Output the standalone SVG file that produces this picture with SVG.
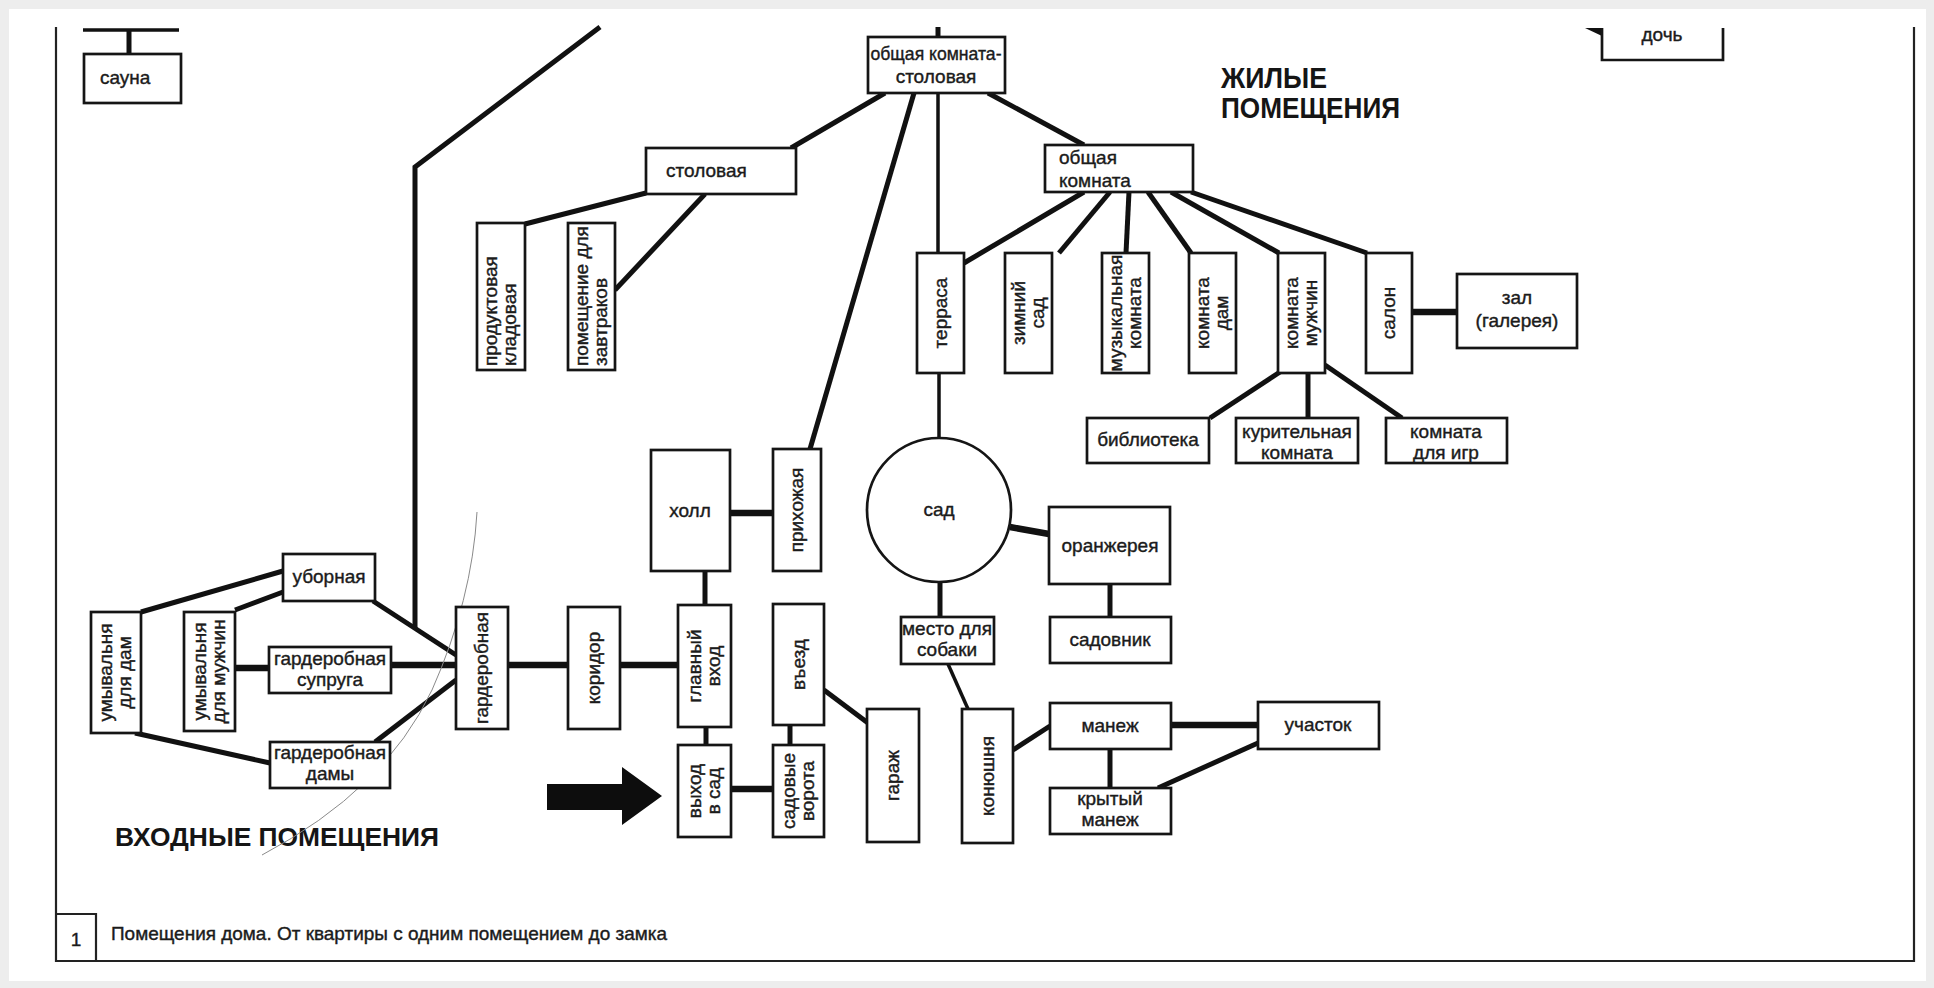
<svg xmlns="http://www.w3.org/2000/svg" width="1934" height="988" viewBox="0 0 1934 988">
<style>
.box{fill:#fff;stroke:#151515;stroke-width:2.7}
.c{stroke:#111;stroke-width:5;fill:none}
.c6{stroke:#111;stroke-width:6.5;fill:none}
.c3{stroke:#111;stroke-width:3.5;fill:none}
.fr{stroke:#222;stroke-width:2.2;fill:none}
.t{font-family:"Liberation Sans",Arial,sans-serif;font-size:19px;fill:#1b1b1b;stroke:#1b1b1b;stroke-width:0.4}
.m{text-anchor:middle}
.h{font-family:"Liberation Sans",Arial,sans-serif;font-weight:bold;fill:#151515}
</style>
<rect x="0" y="0" width="1934" height="988" fill="#ededed"/>
<rect x="9" y="9" width="1917" height="972" fill="#fff"/>

<g id="frame">
<path class="fr" d="M56,27 V961 H1914 V27"/>
<path class="fr" d="M56,914 H96 V961"/>
<text class="t" x="76" y="946" text-anchor="middle" font-size="24">1</text>
<text class="t" x="111" y="940" textLength="556" lengthAdjust="spacingAndGlyphs">Помещения дома. От квартиры с одним помещением до замка</text>
</g>

<g id="headings">
<text class="h" x="1221" y="88" font-size="29" textLength="106" lengthAdjust="spacingAndGlyphs">ЖИЛЫЕ</text>
<text class="h" x="1221" y="118" font-size="29" textLength="179" lengthAdjust="spacingAndGlyphs">ПОМЕЩЕНИЯ</text>
<text class="h" x="115" y="846" font-size="25" textLength="324" lengthAdjust="spacingAndGlyphs">ВХОДНЫЕ ПОМЕЩЕНИЯ</text>
</g>

<g id="connectors">
<path class="c3" d="M83,30 H179"/>
<path class="c" d="M129,30 V54"/>
<path class="c" d="M600,27 L415,167 V628"/>
<path class="c" d="M938,27 V37"/>
<path class="c" d="M885,93 L791,148"/>
<path class="c" d="M914,93 L810,449"/>
<path class="c3" d="M938,93 V253"/>
<path class="c" d="M988,93 L1084,145"/>
<path class="c" d="M646,193 L525,224"/>
<path class="c" d="M705,194 L615,290"/>
<path class="c" d="M1084,192 L964,263"/>
<path class="c" d="M1110,192 L1059,253"/>
<path class="c" d="M1129,192 L1126,253"/>
<path class="c" d="M1148,192 L1191,253"/>
<path class="c" d="M1171,192 L1279,253"/>
<path class="c" d="M1191,192 L1367,253"/>
<path class="c6" d="M1412,312 H1457"/>
<path class="c" d="M1280,372 L1210,418"/>
<path class="c" d="M1308,373 V418"/>
<path class="c" d="M1325,365 L1402,418"/>
<path class="c3" d="M939,373 V438"/>
<path class="c6" d="M730,513 H773"/>
<path class="c6" d="M1010,527 L1049,534"/>
<path class="c" d="M940,582 V617"/>
<path class="c" d="M1110,584 V617"/>
<path class="c" d="M705,571 V605"/>
<path class="c" d="M706,727 V745"/>
<path class="c" d="M790,725 V745"/>
<path class="c6" d="M731,789 H773"/>
<path class="c" d="M824,690 L868,723"/>
<path class="c3" d="M948,664 L968,709"/>
<path class="c" d="M1013,750 L1050,726"/>
<path class="c6" d="M1171,725 H1258"/>
<path class="c" d="M1110,749 V788"/>
<path class="c" d="M1258,743 L1158,788"/>
<path class="c" d="M141,612 L283,571"/>
<path class="c" d="M235,610 L283,592"/>
<path class="c6" d="M235,668 H269"/>
<path class="c6" d="M391,665 H456"/>
<path class="c" d="M373,601 L456,655"/>
<path class="c" d="M456,680 L375,742"/>
<path class="c" d="M135,733 L270,763"/>
<path class="c6" d="M508,665 H568"/>
<path class="c6" d="M620,665 H678"/>
<polygon points="1585,28 1602,28 1602,36" fill="#111"/>
<polygon points="547,784 622,784 622,767 662,796 622,825 622,810 547,810" fill="#0d0d0d"/>
<path d="M477,512 Q472,600 432,690 Q385,790 262,855" stroke="#8a8a8a" stroke-width="1" fill="none"/>
</g>

<g id="n-sauna"><rect class="box" x="84" y="54" width="97" height="49"/><text class="t" x="100" y="84">сауна</text></g>
<g id="n-doch"><path class="box" d="M1602,28 V60 H1723 V28" fill="none"/><text class="t m" x="1662" y="41">дочь</text></g>
<g id="n-oks"><rect class="box" x="868" y="37" width="137" height="56"/><text class="t m" x="936" y="60" font-size="18" textLength="131" lengthAdjust="spacingAndGlyphs">общая комната-</text><text class="t m" x="936" y="83" font-size="18">столовая</text></g>
<g id="n-stolovaya"><rect class="box" x="646" y="148" width="150" height="46"/><text class="t" x="666" y="177">столовая</text></g>
<g id="n-obshaya"><rect class="box" x="1045" y="145" width="148" height="47"/><text class="t" x="1059" y="164">общая</text><text class="t" x="1059" y="187">комната</text></g>
<g id="n-zal"><rect class="box" x="1457" y="274" width="120" height="74"/><text class="t m" x="1517" y="304">зал</text><text class="t m" x="1517" y="327">(галерея)</text></g>
<g id="n-biblioteka"><rect class="box" x="1087" y="418" width="122" height="45"/><text class="t m" x="1148" y="446">библиотека</text></g>
<g id="n-kuritelnaya"><rect class="box" x="1236" y="418" width="122" height="45"/><text class="t m" x="1297" y="438">курительная</text><text class="t m" x="1297" y="459">комната</text></g>
<g id="n-igr"><rect class="box" x="1386" y="418" width="121" height="45"/><text class="t m" x="1446" y="438">комната</text><text class="t m" x="1446" y="459">для игр</text></g>
<g id="n-holl"><rect class="box" x="651" y="450" width="79" height="121"/><text class="t m" x="690" y="517">холл</text></g>
<g id="n-sad"><circle class="box" cx="939" cy="510" r="72"/><text class="t m" x="939" y="516">сад</text></g>
<g id="n-oranzh"><rect class="box" x="1049" y="507" width="121" height="77"/><text class="t m" x="1110" y="552">оранжерея</text></g>
<g id="n-ubornaya"><rect class="box" x="283" y="554" width="92" height="47"/><text class="t m" x="329" y="583">уборная</text></g>
<g id="n-gard-supruga"><rect class="box" x="269" y="647" width="122" height="46"/><text class="t m" x="330" y="665">гардеробная</text><text class="t m" x="330" y="686">супруга</text></g>
<g id="n-mesto"><rect class="box" x="901" y="617" width="93" height="47"/><text class="t m" x="947" y="635" font-size="18">место для</text><text class="t m" x="947" y="656" font-size="18">собаки</text></g>
<g id="n-sadovnik"><rect class="box" x="1050" y="617" width="121" height="46"/><text class="t m" x="1110" y="646">садовник</text></g>
<g id="n-gard-damy"><rect class="box" x="270" y="742" width="120" height="46"/><text class="t m" x="330" y="759">гардеробная</text><text class="t m" x="330" y="780">дамы</text></g>
<g id="n-manezh"><rect class="box" x="1050" y="703" width="121" height="46"/><text class="t m" x="1110" y="732">манеж</text></g>
<g id="n-uchastok"><rect class="box" x="1258" y="702" width="121" height="47"/><text class="t m" x="1318" y="731">участок</text></g>
<g id="n-kryty"><rect class="box" x="1050" y="788" width="121" height="46"/><text class="t m" x="1110" y="805">крытый</text><text class="t m" x="1110" y="826">манеж</text></g>

<g id="n-produkt"><rect class="box" x="477" y="223" width="48" height="147"/><g transform="translate(501,366) rotate(-90)"><text class="t" x="0" y="-4">продуктовая</text><text class="t" x="0" y="15">кладовая</text></g></g>
<g id="n-zavtrak"><rect class="box" x="568" y="223" width="47" height="147"/><g transform="translate(591.5,366) rotate(-90)"><text class="t" x="0" y="-4">помещение для</text><text class="t" x="0" y="15">завтраков</text></g></g>
<g id="n-terrasa"><rect class="box" x="917" y="253" width="47" height="120"/><g transform="translate(940.5,313) rotate(-90)"><text class="t m" x="0" y="6">терраса</text></g></g>
<g id="n-zimniy"><rect class="box" x="1005" y="253" width="47" height="120"/><g transform="translate(1028.5,313) rotate(-90)"><text class="t m" x="0" y="-4">зимний</text><text class="t m" x="0" y="15">сад</text></g></g>
<g id="n-muz"><rect class="box" x="1102" y="253" width="47" height="120"/><g transform="translate(1125.5,313) rotate(-90)"><text class="t m" x="0" y="-4">музыкальная</text><text class="t m" x="0" y="15">комната</text></g></g>
<g id="n-dam"><rect class="box" x="1189" y="253" width="47" height="120"/><g transform="translate(1212.5,313) rotate(-90)"><text class="t m" x="0" y="-4">комната</text><text class="t m" x="0" y="15">дам</text></g></g>
<g id="n-muzh"><rect class="box" x="1278" y="253" width="47" height="120"/><g transform="translate(1301.5,313) rotate(-90)"><text class="t m" x="0" y="-4">комната</text><text class="t m" x="0" y="15">мужчин</text></g></g>
<g id="n-salon"><rect class="box" x="1366" y="253" width="46" height="120"/><g transform="translate(1389,313) rotate(-90)"><text class="t m" x="0" y="6">салон</text></g></g>
<g id="n-prihozh"><rect class="box" x="773" y="449" width="48" height="122"/><g transform="translate(797,510) rotate(-90)"><text class="t m" x="0" y="6">прихожая</text></g></g>
<g id="n-umyv-dam"><rect class="box" x="91" y="612" width="50" height="121"/><g transform="translate(116,672.5) rotate(-90)"><text class="t m" x="0" y="-4">умывальня</text><text class="t m" x="0" y="15">для дам</text></g></g>
<g id="n-umyv-muzh"><rect class="box" x="184" y="612" width="51" height="119"/><g transform="translate(209.5,671.5) rotate(-90)"><text class="t m" x="0" y="-4">умывальня</text><text class="t m" x="0" y="15">для мужчин</text></g></g>
<g id="n-garderob"><rect class="box" x="456" y="607" width="52" height="122"/><g transform="translate(482,668) rotate(-90)"><text class="t m" x="0" y="6">гардеробная</text></g></g>
<g id="n-koridor"><rect class="box" x="568" y="607" width="52" height="122"/><g transform="translate(594,668) rotate(-90)"><text class="t m" x="0" y="6">коридор</text></g></g>
<g id="n-glavny"><rect class="box" x="678" y="605" width="53" height="122"/><g transform="translate(704.5,666) rotate(-90)"><text class="t m" x="0" y="-4">главный</text><text class="t m" x="0" y="15">вход</text></g></g>
<g id="n-vezd"><rect class="box" x="773" y="604" width="51" height="121"/><g transform="translate(798.5,664.5) rotate(-90)"><text class="t m" x="0" y="6">въезд</text></g></g>
<g id="n-vyhod"><rect class="box" x="678" y="745" width="53" height="92"/><g transform="translate(704.5,791) rotate(-90)"><text class="t m" x="0" y="-4">выход</text><text class="t m" x="0" y="15">в сад</text></g></g>
<g id="n-vorota"><rect class="box" x="773" y="745" width="51" height="92"/><g transform="translate(798.5,791) rotate(-90)"><text class="t m" x="0" y="-4">садовые</text><text class="t m" x="0" y="15">ворота</text></g></g>
<g id="n-garazh"><rect class="box" x="867" y="709" width="52" height="133"/><g transform="translate(893,775.5) rotate(-90)"><text class="t m" x="0" y="6">гараж</text></g></g>
<g id="n-konyush"><rect class="box" x="962" y="709" width="51" height="134"/><g transform="translate(987.5,776) rotate(-90)"><text class="t m" x="0" y="6">конюшня</text></g></g>
</svg>
